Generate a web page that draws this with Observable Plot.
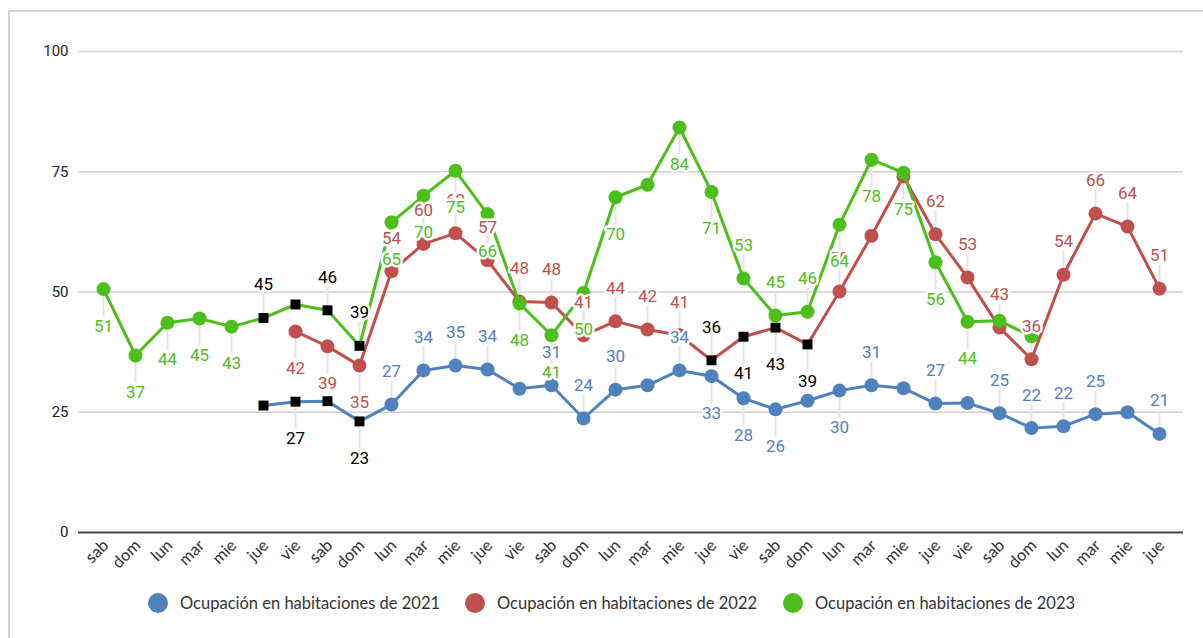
<!DOCTYPE html>
<html>
<head>
<meta charset="utf-8">
<script src="https://cdn.jsdelivr.net/npm/d3@7"></script>
<script src="https://cdn.jsdelivr.net/npm/@observablehq/plot@0.6"></script>
<style>
  body { margin: 0; background: #fff; }
  #wrap { position: relative; width: 1203px; height: 638px; overflow: hidden; background: #fff; }
  #frame { position: absolute; left: 8px; top: 10px; width: 1300px; height: 700px;
           border-left: 2px solid #d4d4d4; border-top: 2px solid #d4d4d4; box-sizing: border-box; }
  #chart { position: absolute; left: 0; top: 0; }
  .item { position: absolute; top: 593px; height: 20px; display: flex; align-items: center;
          font-family: Lato, "Open Sans", sans-serif; font-size: 16.5px; color: #333; white-space: nowrap; }
  .sw { width: 20px; height: 20px; border-radius: 50%; margin-right: 12px; }
</style>
</head>
<body>
<div id="wrap">
  <div id="frame"></div>
  <div id="chart"></div>
  <div id="legend"></div>
</div>
<script>
// ---- data ----
const days = ["sab","dom","lun","mar","mie","jue","vie","sab","dom","lun","mar","mie","jue","vie",
              "sab","dom","lun","mar","mie","jue","vie","sab","dom","lun","mar","mie","jue","vie",
              "sab","dom","lun","mar","mie","jue"];
const seriesNames = ["Ocupación en habitaciones de 2021","Ocupación en habitaciones de 2022","Ocupación en habitaciones de 2023"];
const seriesColors = ["#4f81bd","#c0504d","#4cbf1a"];
const yTicks = [0, 25, 50, 75, 100];

const occ2021 = [null,null,null,null,null,26.4,27.2,27.3,23.1,26.6,33.7,34.7,33.9,29.9,30.6,23.7,29.7,30.6,
                 33.7,32.5,27.9,25.6,27.4,29.5,30.6,30.0,26.8,26.9,24.8,21.7,22.1,24.6,25.0,20.5];
const occ2022 = [null,null,null,null,null,null,41.8,38.7,34.7,54.3,60.0,62.2,56.6,48.0,47.8,41.0,43.9,42.2,
                 41.0,35.8,40.7,42.6,39.1,50.1,61.7,74.0,62.0,53.0,42.6,36.0,53.6,66.3,63.6,50.7];
const occ2023 = [50.6,36.8,43.6,44.5,42.8,44.6,47.4,46.2,38.8,64.5,70.0,75.2,66.2,47.6,41.0,49.8,69.7,72.3,
                 84.2,70.8,52.8,45.1,45.9,64.0,77.5,74.8,56.2,43.8,44.0,40.8,null,null,null,null];

// points shown as black squares (with black labels)
const marked2021 = [5,6,7,8];
const marked2022 = [19,20,21,22];
const marked2023 = [5,6,7,8];

// label placement: 1 above, -1 below, 0 no label
const side2021 = [0,0,0,0,0,0,-1,0,-1,1,1,1,1,0,1,1,1,0,1,-1,-1,-1,0,-1,1,0,1,0,1,1,1,1,0,1];
const side2022 = [0,0,0,0,0,0,-1,-1,-1,1,1,1,1,1,1,1,1,1,1,1,-1,-1,-1,1,0,0,1,1,1,1,1,1,1,1];
const side2023 = [-1,-1,-1,-1,-1,1,0,1,1,-1,-1,-1,-1,-1,-1,-1,-1,0,-1,-1,1,1,1,-1,-1,-1,-1,-1,0,0,0,0,0,0];

// ---- build ----
const H = 590, MT = 51, MB = 58, ML = 78, MR = 20;
const pxPerUnit = (H - MT - MB) / 100;
const values = [occ2021, occ2022, occ2023];
const marks = [marked2021, marked2022, marked2023];
const sides = [side2021, side2022, side2023];

const rows = [];
values.forEach((arr, s) => arr.forEach((v, i) => {
  if (v == null) return;
  rows.push({i, v, s, color: seriesColors[s], marked: marks[s].includes(i), side: sides[s][i]});
}));

const labelOrder = [1, 2, 0];
const labelMarks = [];
for (const s of labelOrder) {
  for (const side of [1, -1]) {
    labelMarks.push(Plot.text(rows.filter(d => d.s === s && d.side === side), {
      x: "i", y: "v", text: d => String(Math.round(d.v)),
      dy: side === 1 ? -33 : 37,
      fill: d => d.marked ? "#000" : d.color,
      stroke: "white", strokeWidth: 5, paintOrder: "stroke",
      fontFamily: "Roboto, sans-serif", fontSize: 17
    }));
  }
}

const seriesMarks = [];
for (const s of [0, 1, 2]) {
  const r = rows.filter(d => d.s === s);
  seriesMarks.push(
    Plot.line(r, {x: "i", y: "v", stroke: seriesColors[s], strokeWidth: 3}),
    Plot.dot(r.filter(d => !d.marked), {x: "i", y: "v", r: 7, fill: seriesColors[s]}),
    Plot.dot(r.filter(d => d.marked), {x: "i", y: "v", r: 5.6, symbol: "square", fill: "#000"})
  );
}

const chart = Plot.plot({
  width: 1203, height: H,
  marginTop: MT, marginBottom: MB, marginLeft: ML, marginRight: MR,
  style: {background: "transparent", overflow: "visible"},
  x: {type: "point", domain: d3.range(days.length), padding: 0.46, axis: null},
  y: {domain: [0, 100], axis: null},
  color: {type: "identity"},
  marks: [
    Plot.ruleY(yTicks.filter(t => t > 0), {stroke: "#d0d0d0", strokeWidth: 1.5}),
    Plot.ruleY([0], {stroke: "#444", strokeWidth: 2}),
    Plot.text(yTicks, {y: d => d, frameAnchor: "left", dx: -10, textAnchor: "end",
      text: d => String(d), fill: "#222", fontFamily: "Roboto, sans-serif", fontSize: 15}),
    Plot.text(days.map((d, i) => i), {x: d => d, frameAnchor: "bottom", textAnchor: "end",
      rotate: -45, dx: 6, dy: 14, text: i => days[i], fill: "#333",
      fontFamily: "Lato, sans-serif", fontSize: 16.5}),
    Plot.link(rows.filter(d => d.side !== 0), {
      x1: "i", x2: "i", y1: "v",
      y2: d => d.v + d.side * (d.side === 1 ? 24 : 27) / pxPerUnit,
      stroke: "#e4e4e4", strokeWidth: 2
    }),
    ...seriesMarks,
    ...labelMarks
  ]
});
document.getElementById("chart").appendChild(chart);

// legend
const legendX = [148, 465, 783];
const legend = document.getElementById("legend");
seriesNames.forEach((name, s) => {
  const it = document.createElement("div");
  it.className = "item";
  it.style.left = legendX[s] + "px";
  it.innerHTML = `<span class="sw" style="background:${seriesColors[s]}"></span><span>${name}</span>`;
  legend.appendChild(it);
});
</script>
</body>
</html>
